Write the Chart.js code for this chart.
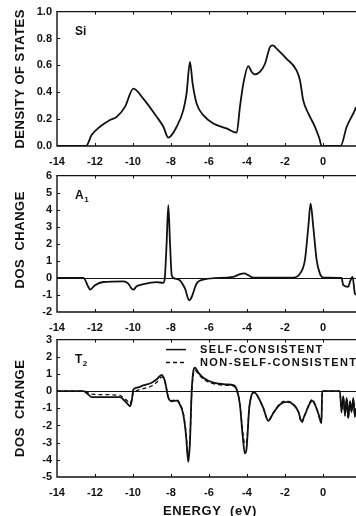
<!DOCTYPE html>
<html lang="en">
<head>
<meta charset="UTF-8">
<title>Si density of states</title>
<script src="https://cdn.jsdelivr.net/npm/chart.js"></script>
<style>
  html, body { margin: 0; padding: 0; background: #fff; }
  body { width: 356px; height: 516px; position: relative; overflow: hidden; }
  canvas { position: absolute; left: 0; }
</style>
</head>
<body>
<canvas id="siChart" width="356" height="172" style="top:0px"></canvas>
<canvas id="a1Chart" width="356" height="172" style="top:164px"></canvas>
<canvas id="t2Chart" width="356" height="188" style="top:328px"></canvas>
<script>
// energies in eV
const siE = [-14, -12.47, -12.18, -11.74, -11.21, -10.86, -10.42, -9.98, -9.46, -8.75, -8.40, -8.14, -7.70, -7.35, -7.18, -7.00, -6.86, -6.65, -6.30, -5.77, -5.07, -4.54, -4.37, -4.19, -3.93, -3.75, -3.58, -3.32, -3.05, -2.79, -2.65, -2.35, -1.91, -1.39, -1.21, -1.04, -0.77, -0.42, -0.19, -0.07, 0.93, 1.25, 1.68, 1.74];
const siDos = [0, 0, 0.081, 0.143, 0.193, 0.217, 0.291, 0.427, 0.353, 0.217, 0.143, 0.062, 0.143, 0.267, 0.39, 0.625, 0.464, 0.316, 0.23, 0.168, 0.131, 0.099, 0.291, 0.464, 0.595, 0.551, 0.533, 0.551, 0.612, 0.736, 0.748, 0.711, 0.649, 0.563, 0.489, 0.341, 0.242, 0.143, 0.057, 0, 0, 0.143, 0.267, 0.29];

const a1E = [-14, -12.61, -12.35, -12.26, -12.0, -11.56, -10.51, -10.25, -10.07, -9.98, -9.81, -9.46, -8.75, -8.40, -8.32, -8.23, -8.14, -8.05, -7.96, -7.79, -7.53, -7.26, -7.04, -6.91, -6.65, -6.30, -4.72, -4.37, -4.14, -3.93, -3.67, -1.56, -1.21, -0.95, -0.77, -0.65, -0.51, -0.33, -0.16, 0.02, 0.98, 1.07, 1.33, 1.42, 1.56, 1.68, 1.74];
const a1Dos = [0, 0, -0.53, -0.69, -0.43, -0.24, -0.2, -0.33, -0.63, -0.69, -0.49, -0.37, -0.25, -0.29, 0.06, 2.02, 4.27, 2.02, 0.16, -0.04, -0.14, -0.63, -1.31, -1.12, -0.33, -0.1, 0.06, 0.22, 0.27, 0.16, 0.02, 0.02, 0.25, 1.04, 3.0, 4.37, 3.0, 1.04, 0.25, 0.02, 0, -0.43, -0.53, -0.24, 0.06, -0.92, -1.0];

const t2E = [-14, -12.61, -12.35, -12.18, -11.74, -10.68, -10.51, -10.25, -10.16, -10.07, -9.98, -9.81, -9.46, -9.02, -8.75, -8.49, -8.32, -8.14, -7.96, -7.70, -7.53, -7.35, -7.21, -7.09, -7.00, -6.91, -6.82, -6.74, -6.56, -6.30, -5.77, -5.07, -4.72, -4.54, -4.37, -4.23, -4.11, -4.02, -3.88, -3.75, -3.63, -3.49, -3.14, -2.88, -2.61, -2.26, -1.91, -1.56, -1.30, -1.12, -0.95, -0.68, -0.56, -0.42, -0.25, -0.08, -0.04, 0.89, 0.98, 1.07, 1.16, 1.25, 1.33, 1.42, 1.51, 1.60, 1.68, 1.74];
const t2Self = [0, 0, -0.2, -0.35, -0.35, -0.35, -0.49, -0.78, -0.88, -0.59, 0.1, 0.2, 0.33, 0.49, 0.69, 0.94, 0.59, -0.39, -0.59, -0.55, -0.78, -1.37, -2.55, -4.12, -2.94, 0, 1.18, 1.37, 1.08, 0.78, 0.49, 0.39, 0.35, 0.1, -0.78, -2.55, -3.63, -3.33, -0.98, -0.2, -0.06, -0.2, -0.98, -1.73, -1.27, -0.78, -0.63, -0.78, -1.18, -1.76, -1.37, -0.69, -0.55, -0.78, -1.27, -1.86, 0, 0, -1.18, -0.29, -1.37, -0.39, -1.57, -0.59, -1.18, -0.39, -1.47, -1.0];
const t2NonSelf = [0, 0, -0.1, -0.18, -0.2, -0.25, -0.38, -0.62, -0.72, -0.5, -0.08, 0.03, 0.15, 0.3, 0.52, 0.82, 0.55, -0.35, -0.55, -0.5, -0.72, -1.3, -2.4, -3.85, -2.8, -0.2, 1.0, 1.22, 1.0, 0.7, 0.43, 0.34, 0.3, 0.05, -0.75, -2.3, -3.05, -2.95, -0.95, -0.22, -0.08, -0.22, -1.0, -1.7, -1.25, -0.72, -0.58, -0.75, -1.2, -1.85, -1.4, -0.62, -0.48, -0.75, -1.3, -1.85, 0, 0, -1.25, -0.35, -1.45, -0.45, -1.6, -0.65, -1.25, -0.45, -1.5, -1.05];

const legendLabels = ["SELF-CONSISTENT", "NON-SELF-CONSISTENT"];

const ink = "#111";
const fontFamily = "'Liberation Sans', Arial, sans-serif";

function points(xs, ys) {
    return xs.map((x, i) => ({ x: x, y: ys[i] }));
}

// frame, inward ticks, zero line, titles and legend
const panelDeco = {
    id: "panelDeco",
    beforeDatasetsDraw(chart, args, o) {
        if (!o.zeroLine) return;
        const { ctx, chartArea: a, scales: { y } } = chart;
        const zy = Math.round(y.getPixelForValue(0)) + 0.5;
        ctx.save();
        ctx.strokeStyle = ink;
        ctx.lineWidth = 1;
        ctx.beginPath();
        ctx.moveTo(a.left, zy);
        ctx.lineTo(a.right, zy);
        ctx.stroke();
        ctx.restore();
    },
    afterDraw(chart, args, o) {
        const { ctx, chartArea: a, scales: { x, y } } = chart;
        ctx.save();
        ctx.strokeStyle = ink;
        ctx.fillStyle = ink;
        ctx.lineWidth = 1.4;
        ctx.beginPath();
        ctx.moveTo(a.right, a.top);
        ctx.lineTo(a.left, a.top);
        ctx.lineTo(a.left, a.bottom);
        ctx.lineTo(a.right, a.bottom);
        ctx.stroke();

        ctx.lineWidth = 1;
        ctx.beginPath();
        x.ticks.forEach(t => {
            const px = Math.round(x.getPixelForValue(t.value)) + 0.5;
            if (px <= a.left + 1) return;
            ctx.moveTo(px, a.bottom);
            ctx.lineTo(px, a.bottom - 3);
            ctx.moveTo(px, a.top);
            ctx.lineTo(px, a.top + 3);
        });
        y.ticks.forEach(t => {
            const py = Math.round(y.getPixelForValue(t.value)) + 0.5;
            if (py <= a.top + 1 || py >= a.bottom - 1) return;
            ctx.moveTo(a.left, py);
            ctx.lineTo(a.left + 3, py);
        });
        ctx.stroke();

        // y axis title
        ctx.save();
        ctx.translate(20, (a.top + a.bottom) / 2 + (o.titleShift || 0));
        ctx.rotate(-Math.PI / 2);
        ctx.font = "bold 13px " + fontFamily;
        ctx.letterSpacing = o.titleSpacing || "0.5px";
        ctx.textAlign = "center";
        ctx.textBaseline = "middle";
        ctx.fillText(o.title, 0, 0);
        ctx.restore();

        // panel label with optional subscript
        ctx.font = "bold 12px " + fontFamily;
        ctx.textAlign = "left";
        ctx.textBaseline = "alphabetic";
        ctx.fillText(o.label, a.left + 18, a.top + 23);
        if (o.sub) {
            const w = ctx.measureText(o.label).width;
            ctx.font = "bold 8px " + fontFamily;
            ctx.fillText(o.sub, a.left + 18 + w + 0.5, a.top + 26);
        }

        if (o.legend) {
            ctx.font = "bold 11px " + fontFamily;
            ctx.letterSpacing = "1.4px";
            ctx.textBaseline = "middle";
            o.legend.forEach((lab, i) => {
                const ly = a.top + 10 + i * 13;
                ctx.lineWidth = 1.5;
                ctx.setLineDash(i === 0 ? [] : [4, 3]);
                ctx.beginPath();
                ctx.moveTo(166, ly);
                ctx.lineTo(186, ly);
                ctx.stroke();
                ctx.setLineDash([]);
                ctx.fillText(lab, 200, ly);
            });
        }

        if (o.xTitle) {
            ctx.font = "bold 13px " + fontFamily;
            ctx.letterSpacing = "0.6px";
            ctx.textAlign = "center";
            ctx.textBaseline = "middle";
            ctx.fillText(o.xTitle, 210, a.bottom + 34);
        }
        ctx.restore();
    }
};

function makePanel(id, datasets, yMin, yMax, yStep, yFmt, bottomHeight, deco) {
    return new Chart(document.getElementById(id), {
        type: "line",
        data: { datasets: datasets },
        options: {
            responsive: false,
            animation: false,
            devicePixelRatio: 1,
            layout: { padding: { top: 11, left: 0, right: 0, bottom: 0 } },
            elements: { point: { radius: 0 } },
            plugins: {
                legend: { display: false },
                tooltip: { enabled: false },
                panelDeco: deco
            },
            scales: {
                x: {
                    type: "linear",
                    min: -14,
                    max: 1.74,
                    afterFit: s => { s.height = bottomHeight; },
                    grid: { display: false, drawTicks: false },
                    border: { display: false },
                    ticks: {
                        stepSize: 2,
                        includeBounds: false,
                        padding: 9,
                        color: ink,
                        font: { family: fontFamily, size: 11, weight: "bold" },
                        maxRotation: 0
                    }
                },
                y: {
                    min: yMin,
                    max: yMax,
                    afterFit: s => { s.width = 57; },
                    grid: { display: false, drawTicks: false },
                    border: { display: false },
                    ticks: {
                        stepSize: yStep,
                        padding: 5,
                        color: ink,
                        font: { family: fontFamily, size: 11, weight: "bold" },
                        callback: yFmt
                    }
                }
            }
        },
        plugins: [panelDeco]
    });
}

const lineStyle = {
    borderColor: ink,
    borderWidth: 1.8,
    pointRadius: 0,
    fill: false,
    cubicInterpolationMode: "monotone"
};

makePanel("siChart",
    [Object.assign({ label: "Si", data: points(siE, siDos) }, lineStyle)],
    0, 1, 0.2, v => v.toFixed(1), 26,
    { title: "DENSITY OF STATES", label: "Si" });

makePanel("a1Chart",
    [Object.assign({ label: "A1", data: points(a1E, a1Dos) }, lineStyle)],
    -2, 6, 1, v => String(Math.round(v)), 24,
    { title: "DOS  CHANGE", label: "A", sub: "1", zeroLine: true, titleShift: -4 });

makePanel("t2Chart",
    [
        Object.assign({ label: legendLabels[1], data: points(t2E, t2NonSelf) }, lineStyle, { borderWidth: 1.3, borderDash: [4, 3] }),
        Object.assign({ label: legendLabels[0], data: points(t2E, t2Self) }, lineStyle)
    ],
    -5, 3, 1, v => String(Math.round(v)), 39,
    { title: "DOS  CHANGE", label: "T", sub: "2", zeroLine: true, legend: legendLabels, xTitle: "ENERGY  (eV)" });
</script>
</body>
</html>
